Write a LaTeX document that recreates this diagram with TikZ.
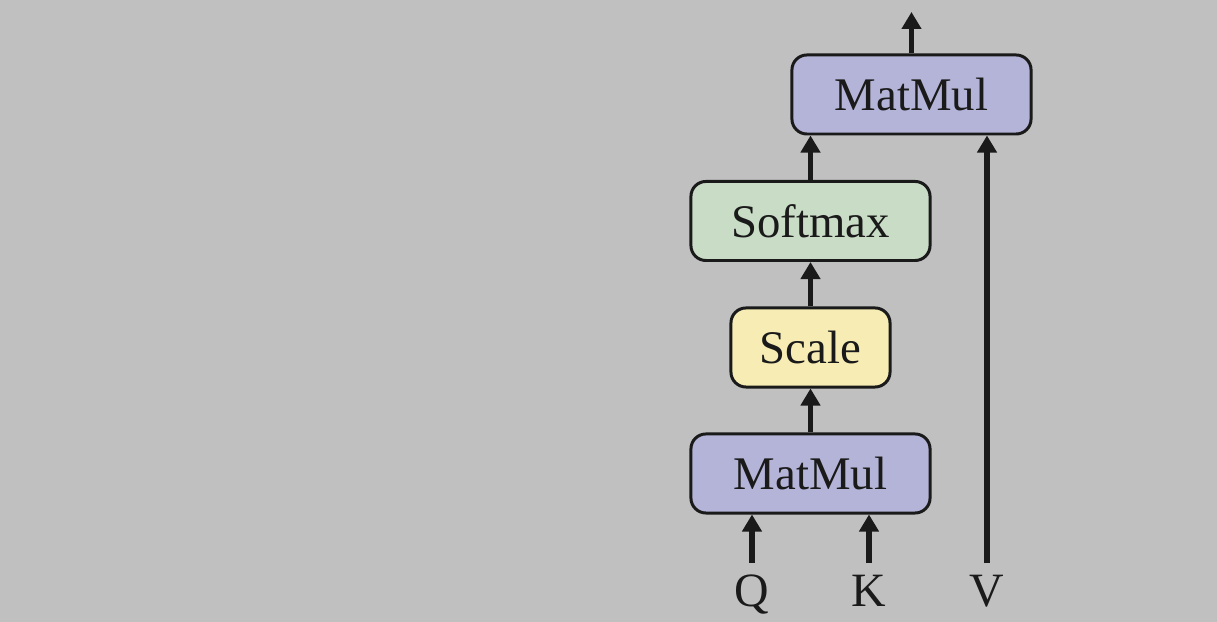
\documentclass[tikz,border=0pt]{standalone}
\usepackage{fontspec}
\setmainfont{Liberation Serif}
\usetikzlibrary{arrows.meta}
\definecolor{bg}{RGB}{192,192,192}
\definecolor{mmcol}{RGB}{180,180,216}
\definecolor{smcol}{RGB}{200,220,198}
\definecolor{sccol}{RGB}{246,236,180}
\definecolor{ink}{RGB}{26,26,26}
\tikzset{
  box/.style={draw=ink,line width=0.85pt,rounded corners=0.15cm,minimum height=0.79cm,
    font=\fontsize{13.3}{16}\selectfont,text=ink},
  lbl/.style={font=\fontsize{13.6}{16}\selectfont,text=ink,anchor=base},
  arr/.style={draw=ink,line width=1.7pt,-{Triangle[width=0.19cm,length=0.17cm]}}
}
\begin{document}
\begin{tikzpicture}[x=0.01cm,y=0.01cm]
\fill[bg] (0,0) rectangle (1217,622);
\useasboundingbox (0,0) rectangle (1217,622);

\node[box,fill=mmcol,minimum width=2.39cm] (mm1) at (810.5,148.5) {MatMul};
\node[box,fill=sccol,minimum width=1.59cm] (sc) at (810.5,274.5) {Scale};
\node[box,fill=smcol,minimum width=2.39cm] (sm) at (810.5,401) {Softmax};
\node[box,fill=mmcol,minimum width=2.39cm] (mm2) at (911.5,527.5) {MatMul};

\node[lbl] (q) at (752,15) {Q};
\node[lbl] (k) at (869,15) {K};
\node[lbl] (v) at (987,15) {V};
\coordinate (out) at (911.5,610);

\draw[arr] (q.north) -- (q.north |- mm1.south);
\draw[arr] (k.north) -- (k.north |- mm1.south);
\draw[arr] (mm1) -- (sc);
\draw[arr] (sc) -- (sm);
\draw[arr] (sm.north) -- (sm.north |- mm2.south);
\draw[arr] (v.north) -- (v.north |- mm2.south);
\draw[arr] (mm2) -- (out);
\end{tikzpicture}
\end{document}
